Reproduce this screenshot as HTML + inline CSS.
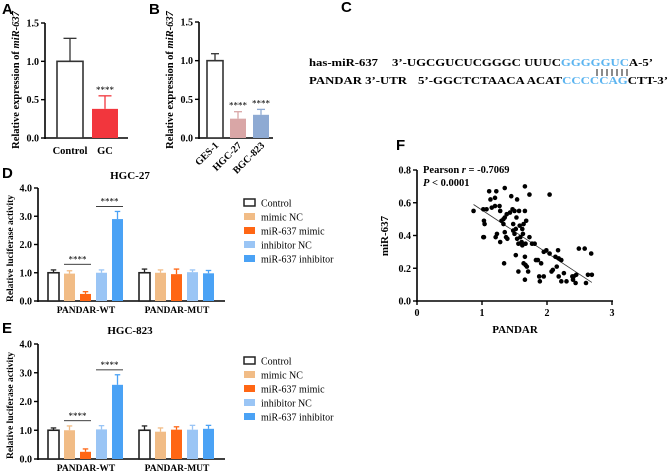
<!DOCTYPE html>
<html><head><meta charset="utf-8"><style>
body{margin:0;background:#fff}
svg{display:block;font-family:"Liberation Serif",serif}
.pl{font-family:"Liberation Sans",sans-serif;font-weight:bold;font-size:15px}
.b{font-weight:bold}
</style></head><body>
<svg id="s" width="669" height="473" viewBox="0 0 669 473">
<text class="pl" x="2" y="14">A</text>
<text class="pl" x="149" y="14">B</text>
<text class="pl" x="341" y="12">C</text>
<text class="pl" x="2" y="178">D</text>
<text class="pl" x="2" y="333">E</text>
<text class="pl" x="396" y="150">F</text>
<g font-size="10.5" font-weight="bold">
<text x="309" y="66" textLength="69" lengthAdjust="spacingAndGlyphs">has-miR-637</text>
<text x="392" y="66" textLength="261" lengthAdjust="spacingAndGlyphs">3’-UGCGUCUCGGGC UUUC<tspan fill="#5bb4f0">GGGGGUC</tspan>A-5’</text>
<text x="309" y="84" textLength="98" lengthAdjust="spacingAndGlyphs">PANDAR 3’-UTR</text>
<text x="418" y="84" textLength="250" lengthAdjust="spacingAndGlyphs">5’-GGCTCTAACA ACAT<tspan fill="#5bb4f0">CCCCCAG</tspan>CTT-3’</text>
<g stroke="#000" stroke-width="0.9">
<line x1="597" x2="597" y1="69" y2="76"/><line x1="602" x2="602" y1="69" y2="76"/><line x1="607" x2="607" y1="69" y2="76"/><line x1="612" x2="612" y1="69" y2="76"/><line x1="617" x2="617" y1="69" y2="76"/><line x1="622" x2="622" y1="69" y2="76"/><line x1="627" x2="627" y1="69" y2="76"/>
</g>
</g>
<text class="b" x="130" y="179" text-anchor="middle" font-size="11">HGC-27</text>
<text class="b" x="130" y="334" text-anchor="middle" font-size="11">HGC-823</text>
</svg>
<script>
const NS="http://www.w3.org/2000/svg",S=document.getElementById('s');
function el(t,a,p){const e=document.createElementNS(NS,t);for(const k in a)e.setAttribute(k,a[k]);(p||S).appendChild(e);return e;}
// Panel A data
const aCats=["Control","GC"],aVals=[1.0,0.38],aErr=[0.3,0.17],aStars=["","****"];
const bCats=["GES-1","HGC-27","BGC-823"],bVals=[1.0,0.25,0.3],bErr=[0.09,0.09,0.07],bStars=["","****","****"];
const abTicks=[0,0.5,1.0,1.5];
// Panels D/E data
const groups=["PANDAR-WT","PANDAR-MUT"];
const series=["Control","mimic NC","miR-637 mimic","inhibitor NC","miR-637 inhibitor"];
const dVals=[[1.0,0.97,0.25,1.0,2.9],[1.0,1.0,0.95,1.02,0.98]];
const dErr=[[0.1,0.1,0.08,0.1,0.27],[0.13,0.1,0.18,0.08,0.1]];
const eVals=[[1.0,1.0,0.25,1.03,2.58],[1.0,0.95,1.02,1.02,1.05]];
const eErr=[[0.08,0.15,0.1,0.13,0.35],[0.15,0.13,0.1,0.15,0.12]];
const lucTicks=[0,1,2,3,4];
// Panel F data
const fx=[0.87,1.02,1.11,1.22,1.35,1.66,1.73,2.04,1.03,1.04,1.02,1.03,1.13,1.2,1.07,1.15,1.2,1.27,1.28,1.33,1.3,1.35,1.38,1.43,1.45,1.47,1.5,1.54,1.57,1.53,1.48,1.52,1.58,1.62,1.64,1.66,1.68,1.21,1.23,1.28,1.35,1.37,1.39,1.33,1.48,1.5,1.54,1.56,1.59,1.61,1.63,1.62,1.67,1.73,1.77,1.81,1.34,1.52,1.56,1.66,1.64,1.67,1.69,1.71,1.66,1.83,1.86,1.91,1.88,1.89,1.95,1.95,1.99,2.04,2.07,2.09,2.13,2.15,2.17,2.18,2.22,2.18,2.22,2.26,2.3,2.39,2.4,2.44,2.45,2.49,2.58,2.6,2.63,2.68,2.69,2.41];
const fy=[0.55,0.56,0.67,0.67,0.69,0.70,0.65,0.65,0.49,0.47,0.39,0.39,0.62,0.63,0.56,0.57,0.58,0.58,0.55,0.5,0.49,0.51,0.53,0.54,0.64,0.56,0.55,0.62,0.55,0.51,0.47,0.44,0.46,0.44,0.47,0.55,0.49,0.39,0.41,0.36,0.42,0.39,0.38,0.47,0.43,0.41,0.38,0.35,0.39,0.36,0.41,0.34,0.35,0.39,0.35,0.35,0.23,0.28,0.18,0.27,0.23,0.22,0.21,0.18,0.13,0.25,0.25,0.23,0.15,0.12,0.15,0.30,0.31,0.29,0.18,0.19,0.27,0.21,0.31,0.26,0.25,0.15,0.12,0.17,0.12,0.15,0.13,0.11,0.16,0.32,0.32,0.11,0.16,0.29,0.16,0.15];
const fxTicks=[0,1,2,3],fyTicks=[0,0.2,0.4,0.6,0.8];

function yAxis(x,y0,y1,ticks,max,fmt,name){
  const g=el('g',{});
  el('line',{x1:x,x2:x,y1:y0+1,y2:y1,stroke:'#000','stroke-width':1.6},g);
  ticks.forEach(t=>{const y=y0-(y0-y1)*t/max;el('line',{x1:x-4,x2:x,y1:y,y2:y,stroke:'#000','stroke-width':1.4},g);
    const tx=el('text',{x:x-6,y:y+3.5,'text-anchor':'end','font-size':10,'font-weight':'bold'},g);tx.textContent=fmt(t);});
  return v=>y0-(y0-y1)*v/max;
}
function ylabel(x,y,txt,name,fs){const t=el('text',{x:x,y:y,transform:`rotate(-90 ${x} ${y})`,'text-anchor':'middle','font-size':fs||10.5,'font-weight':'bold'});t.innerHTML=txt;return t;}
function bar(x,w,ys,v,e,fill,stroke,name,err){
  const g=el('g',{});
  const top=ys(v),be=ys(v+e),cx=x+w/2;
  el('line',{x1:cx,x2:cx,y1:top,y2:be,stroke:err,'stroke-width':1.3},g);
  el('line',{x1:cx-w/4,x2:cx+w/4,y1:be,y2:be,stroke:err,'stroke-width':1.3},g);
  el('rect',{x:x,y:top,width:w,height:ys(0)-top,fill:fill,stroke:stroke,'stroke-width':stroke=='none'?0:1.6},g);
  return g;
}
const f1=v=>v.toFixed(1);
// Panel A
let ya=yAxis(45,138,23,abTicks,1.5,f1,'a-y-axis');
el('line',{x1:45,x2:128,y1:138,y2:138,stroke:'#000','stroke-width':1.6});
ylabel(19,80,'Relative expression of <tspan font-style="italic">miR-637</tspan>','a-y-axis-title');
const aFill=['#fff','#f2363d'],aStroke=['#333','none'],aErrC=['#333','#f2363d'];
aCats.forEach((c,i)=>{const x=57+i*35;bar(x,26,ya,aVals[i],aErr[i],aFill[i],aStroke[i],'a-bar-'+i,aErrC[i]);
  const t=el('text',{x:x+13,y:154,'text-anchor':'middle','font-size':10.5,'font-weight':'bold'});t.textContent=c;
  if(aStars[i]){const s=el('text',{x:x+13,y:ya(aVals[i]+aErr[i])-3,'text-anchor':'middle','font-size':9});s.textContent=aStars[i];}});
// Panel B
let yb=yAxis(199,138,22,abTicks,1.5,f1,'b-y-axis');
el('line',{x1:199,x2:273,y1:138,y2:138,stroke:'#000','stroke-width':1.6});
ylabel(173,80,'Relative expression of <tspan font-style="italic">miR-637</tspan>','b-y-axis-title');
const bFill=['#fff','#d9a6a6','#8eaad3'],bStroke=['#333','none','none'],bErrC=['#333','#d9a6a6','#8eaad3'];
bCats.forEach((c,i)=>{const x=207+i*23;bar(x,16,yb,bVals[i],bErr[i],bFill[i],bStroke[i],'b-bar-'+i,bErrC[i]);
  const t=el('text',{x:x+12,y:146,'text-anchor':'end','font-size':10,'font-weight':'bold',transform:`rotate(-45 ${x+12} 146)`});t.textContent=c;
  if(bStars[i]){const s=el('text',{x:x+8,y:yb(bVals[i]+bErr[i])-3,'text-anchor':'middle','font-size':9});s.textContent=bStars[i];}});
// Panels D/E
const sFill=['#fff','#f1bc86','#ff6614','#9ac5f5','#4aa2f5'],sStroke=['#222','none','none','none','none'];
function lucPanel(y0,y1,vals,errs,pre,legY,starYs){
  const ys=yAxis(38,y0,y1,lucTicks,4,f1,pre+'-y-axis');
  el('line',{x1:38,x2:225,y1:y0,y2:y0,stroke:'#000','stroke-width':1.6});
  ylabel(13,(y0+y1)/2+4,'Relative luciferase activity',pre+'-y-axis-title',9.5);
  groups.forEach((g,gi)=>{series.forEach((s,si)=>{const x=48+gi*91+si*16;
    bar(x,11,ys,vals[gi][si],errs[gi][si],sFill[si],sStroke[si],pre+'-bar-'+gi+'-'+si,si==0?'#222':sFill[si]);});
    const t=el('text',{x:86+gi*91,y:y0+12,'text-anchor':'middle','font-size':9.5,'font-weight':'bold'});t.textContent=g;});
  starYs.forEach(([a,b,v])=>{const x1=48+a*16,x2=48+b*16+11,y=ys(v);el('line',{x1:x1,x2:x2,y1:y,y2:y,stroke:'#000','stroke-width':0.8});
    const t=el('text',{x:(x1+x2)/2,y:y-2,'text-anchor':'middle','font-size':9});t.textContent='****';});
  series.forEach((s,i)=>{const g=el('g',{});
    const y=legY+i*14;el('rect',{x:244,y:y-4,width:11,height:7,fill:sFill[i],stroke:sStroke[i],'stroke-width':1.5},g);
    const t=el('text',{x:261,y:y+3.5,'font-size':10},g);t.textContent=s;});
}
lucPanel(301,188,dVals,dErr,'d',203,[[1,2,1.3],[3,4,3.35]]);
lucPanel(459,344,eVals,eErr,'e',361,[[1,2,1.33],[3,4,3.1]]);
// Panel F
const fX=v=>417+v*65,fY=yAxis(417,301,170,fyTicks,0.8,f1,'f-y-axis');
const xg=el('g',{});
el('line',{x1:416,x2:613,y1:301,y2:301,stroke:'#000','stroke-width':1.6},xg);
fxTicks.forEach(t=>{el('line',{x1:fX(t),x2:fX(t),y1:301,y2:305,stroke:'#000','stroke-width':1.4},xg);
  const tx=el('text',{x:fX(t),y:316,'text-anchor':'middle','font-size':10,'font-weight':'bold'},xg);tx.textContent=t;});
const xl=el('text',{x:515,y:333,'text-anchor':'middle','font-size':11,'font-weight':'bold'});xl.textContent='PANDAR';

ylabel(388,236,'miR-637','f-y-axis-title',11);
let n=fx.length,mx=fx.reduce((a,b)=>a+b)/n,my=fy.reduce((a,b)=>a+b)/n,sxy=0,sxx=0;
fx.forEach((x,i)=>{sxy+=(x-mx)*(fy[i]-my);sxx+=(x-mx)*(x-mx);});
const sl=sxy/sxx,ic=my-sl*mx,xmin=Math.min(...fx),xmax=Math.max(...fx);
const rl=el('line',{x1:fX(xmin),y1:fY(ic+sl*xmin),x2:fX(xmax),y2:fY(ic+sl*xmax),stroke:'#333','stroke-width':0.8});

fx.forEach((x,i)=>{const c=el('circle',{cx:fX(x),cy:fY(fy[i]),r:2.3,fill:'#000'});
  });
const st=el('text',{x:423,y:173,'font-size':10.5,'font-weight':'bold'});st.innerHTML='Pearson <tspan font-style="italic">r</tspan> = -0.7069';

const sp=el('text',{x:423,y:186,'font-size':10.5,'font-weight':'bold'});sp.innerHTML='<tspan font-style="italic">P</tspan> &lt; 0.0001';

</script>
</body></html>
